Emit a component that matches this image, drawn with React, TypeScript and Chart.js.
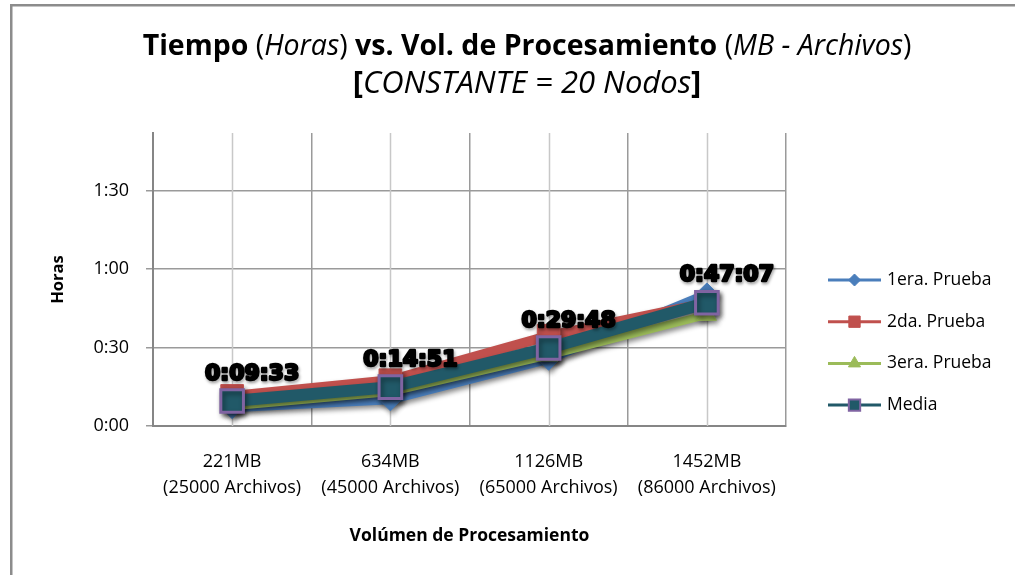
import React, { useEffect, useRef } from 'react';
import { Chart, registerables } from 'chart.js';

Chart.register(...registerables);

// ---------- data ----------
const categories: string[][] = [
  ['221MB', '(25000 Archivos)'],
  ['634MB', '(45000 Archivos)'],
  ['1126MB', '(65000 Archivos)'],
  ['1452MB', '(86000 Archivos)'],
];
const seriesNames = ['1era. Prueba', '2da. Prueba', '3era. Prueba', 'Media'];
const prueba1 = ['0:07:00', '0:10:00', '0:25:30', '0:50:30'];
const prueba2 = ['0:11:30', '0:17:30', '0:34:30', '0:47:00'];
const prueba3 = ['0:07:30', '0:13:00', '0:27:00', '0:42:30'];
const media = ['0:09:33', '0:14:51', '0:29:48', '0:47:07'];
const yTickMinutes = [0, 30, 60, 90];
const yMaxMinutes = 112;

const titleLine1 = [
  { t: 'Tiempo ', s: 'bold' },
  { t: '(', s: 'normal' },
  { t: 'Horas', s: 'italic' },
  { t: ') ', s: 'normal' },
  { t: 'vs. Vol. de Procesamiento ', s: 'bold' },
  { t: '(', s: 'normal' },
  { t: 'MB - Archivos', s: 'italic' },
  { t: ')', s: 'normal' },
];
const titleLine2 = [
  { t: '[', s: 'bold' },
  { t: 'CONSTANTE = 20 Nodos', s: 'italic' },
  { t: ']', s: 'bold' },
];
const xTitle = 'Volúmen de Procesamiento';
const yTitle = 'Horas';

// ---------- helpers ----------
const toMinutes = (s: string) => {
  const [h, m, sec] = s.split(':').map(Number);
  return h * 60 + m + sec / 60;
};
const fmtHM = (v: number) => `${Math.floor(v / 60)}:${String(Math.round(v % 60)).padStart(2, '0')}`;

const FONT = '"Open Sans", sans-serif';
const colors = {
  blue: '#4a7ebb',
  red: '#c0504d',
  green: '#9bbb59',
  teal: '#215968',
  purple: '#8064a2',
};
const styles = [
  { line: colors.blue, fill: colors.blue, border: colors.blue, point: 'rectRot', r: 11, lr: 6, w: 9 },
  { line: colors.red, fill: colors.red, border: colors.red, point: 'rect', r: 16, lr: 8, w: 10 },
  { line: colors.green, fill: colors.green, border: colors.green, point: 'triangle', r: 11, lr: 7, w: 8 },
  { line: colors.teal, fill: colors.teal, border: colors.purple, point: 'rect', r: 16, lr: 8, w: 12 },
];

function drawMarker(ctx: CanvasRenderingContext2D, style: string, x: number, y: number, r: number) {
  ctx.beginPath();
  if (style === 'rectRot') {
    ctx.moveTo(x, y - r);
    ctx.lineTo(x + r, y);
    ctx.lineTo(x, y + r);
    ctx.lineTo(x - r, y);
    ctx.closePath();
  } else if (style === 'triangle') {
    ctx.moveTo(x, y - r);
    ctx.lineTo(x + r * 0.866, y + r * 0.5);
    ctx.lineTo(x - r * 0.866, y + r * 0.5);
    ctx.closePath();
  } else {
    const h = r * Math.SQRT1_2;
    ctx.rect(x - h, y - h, 2 * h, 2 * h);
  }
}

const framePlugin = {
  id: 'frame',
  beforeDraw(chart: any) {
    const ctx = chart.ctx;
    ctx.save();
    ctx.fillStyle = '#ffffff';
    ctx.fillRect(0, 0, chart.width, chart.height);
    ctx.strokeStyle = '#8c8c8c';
    ctx.lineWidth = 2.5;
    ctx.beginPath();
    ctx.moveTo(11.25, chart.height + 5);
    ctx.lineTo(11.25, 5.25);
    ctx.lineTo(chart.width + 5, 5.25);
    ctx.stroke();
    ctx.restore();
  },
};

const centerGridAndShadow = {
  id: 'centerGridAndShadow',
  beforeDatasetsDraw(chart: any) {
    const ctx = chart.ctx;
    const xs = chart.scales.x;
    const { top, bottom } = chart.chartArea;
    ctx.save();
    ctx.strokeStyle = '#c8c8c8';
    ctx.lineWidth = 1.5;
    for (let i = 0; i < xs.ticks.length; i++) {
      const x = Math.round(xs.getPixelForTick(i)) + 0.5;
      ctx.beginPath();
      ctx.moveTo(x, top);
      ctx.lineTo(x, bottom);
      ctx.stroke();
    }
    ctx.restore();
    ctx.save();
    ctx.shadowColor = 'rgba(0,0,0,0.45)';
    ctx.shadowBlur = 5;
    ctx.shadowOffsetX = 2;
    ctx.shadowOffsetY = 3;
  },
  afterDatasetsDraw(chart: any) {
    const ctx = chart.ctx;
    ctx.restore();
    // data labels for Media
    const meta = chart.getDatasetMeta(3);
    ctx.save();
    ctx.font = 'bold 22px "DejaVu Sans", sans-serif';
    ctx.textAlign = 'center';
    ctx.textBaseline = 'middle';
    ctx.lineJoin = 'round';
    meta.data.forEach((pt: any, i: number) => {
      const x = pt.x + 20;
      const y = pt.y - 27;
      ctx.shadowColor = 'rgba(0,0,0,0.4)';
      ctx.shadowBlur = 3;
      ctx.shadowOffsetX = 1;
      ctx.shadowOffsetY = 2;
      ctx.strokeStyle = '#000';
      ctx.lineWidth = 2.5;
      ctx.strokeText(media[i], x, y);
      ctx.shadowColor = 'transparent';
      ctx.fillStyle = '#000';
      ctx.fillText(media[i], x, y);
    });
    ctx.restore();
  },
};

function drawRich(ctx: CanvasRenderingContext2D, segs: { t: string; s: string }[], cx: number, y: number, size: number) {
  const fontFor = (s: string) =>
    s === 'bold' ? `bold ${size}px ${FONT}` : s === 'italic' ? `italic ${size}px ${FONT}` : `${size}px ${FONT}`;
  let total = 0;
  const widths = segs.map((g) => {
    ctx.font = fontFor(g.s);
    const w = ctx.measureText(g.t).width;
    total += w;
    return w;
  });
  let x = cx - total / 2;
  segs.forEach((g, i) => {
    ctx.font = fontFor(g.s);
    ctx.fillText(g.t, x, y);
    x += widths[i];
  });
}

const titleLegendPlugin = {
  id: 'titleLegend',
  afterDraw(chart: any) {
    const ctx = chart.ctx;
    ctx.save();
    ctx.fillStyle = '#000';
    ctx.textAlign = 'left';
    ctx.textBaseline = 'middle';
    drawRich(ctx, titleLine1, 527, 47, 28.5);
    drawRich(ctx, titleLine2, 527, 84, 31);

    // legend
    const right = chart.chartArea.right;
    const x0 = right + 42;
    const x1 = right + 95;
    const legendTop = 280;
    const gap = 41.7;
    seriesNames.forEach((name, i) => {
      const st = styles[i];
      const y = legendTop + i * gap;
      ctx.strokeStyle = st.line;
      ctx.lineWidth = 3;
      ctx.beginPath();
      ctx.moveTo(x0, y);
      ctx.lineTo(x1, y);
      ctx.stroke();
      drawMarker(ctx, st.point, (x0 + x1) / 2, y, st.lr);
      ctx.fillStyle = st.fill;
      ctx.fill();
      ctx.lineWidth = i === 3 ? 2 : 1;
      ctx.strokeStyle = st.border;
      ctx.stroke();
      ctx.fillStyle = '#000';
      ctx.font = `17.5px ${FONT}`;
      ctx.fillText(name, x1 + 6, y);
    });
    ctx.restore();
  },
};

export default function App() {
  const ref = useRef<HTMLCanvasElement | null>(null);
  useEffect(() => {
    if (!ref.current) return;
    const series = [prueba1, prueba2, prueba3, media];
    const chart = new Chart(ref.current, {
      type: 'line',
      data: {
        labels: categories,
        datasets: series.map((s, i) => ({
          label: seriesNames[i],
          data: s.map(toMinutes),
          borderColor: styles[i].line,
          backgroundColor: styles[i].fill,
          borderWidth: styles[i].w,
          pointStyle: styles[i].point as any,
          pointRadius: styles[i].r,
          pointBackgroundColor: styles[i].fill,
          pointBorderColor: styles[i].border,
          pointBorderWidth: i === 3 ? 3 : 1,
          tension: 0,
          order: 4 - i,
        })),
      },
      options: {
        responsive: false,
        animation: false,
        events: [],
        layout: { padding: { top: 133, right: 229, bottom: 0, left: 11 } },
        plugins: {
          legend: { display: false },
          title: { display: false },
          tooltip: { enabled: false },
        },
        scales: {
          x: {
            type: 'category',
            offset: true,
            grid: { offset: true, color: '#9a9a9a', lineWidth: 1.5, drawTicks: false },
            border: { color: '#868686', width: 2 },
            ticks: {
              maxRotation: 0,
              minRotation: 0,
              autoSkip: false,
              padding: 23,
              color: '#000',
              font: { family: FONT, size: 18, lineHeight: 1.45 },
            },
            title: {
              display: true,
              text: xTitle,
              color: '#000',
              font: { family: FONT, size: 17.5, weight: 'bold' },
              padding: { top: 0, bottom: 28 },
            },
            afterFit: (s: any) => {
              s.height = 149;
            },
          },
          y: {
            min: 0,
            max: yMaxMinutes,
            afterBuildTicks: (s: any) => {
              s.ticks = yTickMinutes.map((v) => ({ value: v }));
            },
            grid: { color: '#9a9a9a', lineWidth: 1.5, tickLength: 7 },
            border: { color: '#868686', width: 2 },
            ticks: {
              padding: 17,
              color: '#000',
              font: { family: FONT, size: 18 },
              callback: (v: any) => fmtHM(Number(v)),
            },
            title: {
              display: true,
              text: yTitle,
              color: '#000',
              font: { family: FONT, size: 16.5, weight: 'bold' },
              padding: { top: 37, bottom: 0 },
            },
            afterFit: (s: any) => {
              s.width = 142;
            },
          },
        },
      },
      plugins: [framePlugin, centerGridAndShadow, titleLegendPlugin],
    });
    return () => chart.destroy();
  }, []);
  return (
    <div style={{ position: 'absolute', left: 0, top: 0, width: 1015, height: 575 }}>
      <canvas ref={ref} width={1015} height={575} style={{ display: 'block' }} />
    </div>
  );
}
